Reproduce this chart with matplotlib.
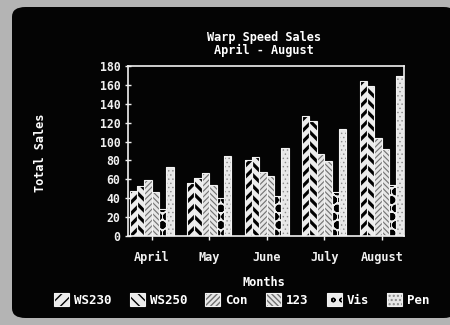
import matplotlib
matplotlib.use("Agg")
import matplotlib.pyplot as plt
from matplotlib.patches import Patch, FancyBboxPatch
import numpy as np

# ---- data ----
months = ["April", "May", "June", "July", "August"]
series_names = ["WS230", "WS250", "Con", "123", "Vis", "Pen"]
ws230 = [48, 56, 80, 127, 164]
ws250 = [53, 61, 84, 122, 159]
con = [59, 67, 68, 87, 104]
lotus = [47, 54, 64, 79, 92]
vis = [29, 40, 42, 47, 54]
pen = [73, 85, 93, 113, 169]
yticks = [0, 20, 40, 60, 80, 100, 120, 140, 160, 180]

series = [ws230, ws250, con, lotus, vis, pen]

# fill, hatch, hatch colour, hatch line width for each series
styles = [
    ("#ececec", "///", "#000000", 2.3),
    ("#ececec", "\\\\\\", "#000000", 2.3),
    ("#e6e6e6", "//////", "#707070", 0.8),
    ("#e6e6e6", "\\\\\\\\\\\\", "#707070", 0.8),
    ("#ececec", "oo", "#000000", 2.8),
    ("#e8e8e8", "....", "#8a8a8a", 0.5),
]

FONT = dict(family="DejaVu Sans Mono", weight="bold", color="white")
plt.rcParams["font.family"] = "DejaVu Sans Mono"
plt.rcParams["font.weight"] = "bold"

fig = plt.figure(figsize=(4.5, 3.25), dpi=100, facecolor="#b4b4b4")

# dark screen area
screen = FancyBboxPatch((12 / 450, 7 / 325), 445 / 450, 311 / 325,
                        boxstyle="round,pad=0,rounding_size=0.03",
                        transform=fig.transFigure, facecolor="#040404",
                        edgecolor="none", zorder=-5)
fig.patches.append(screen)

ax = fig.add_axes([128 / 450, 1 - 236 / 325, 276 / 450, 170 / 325])
ax.set_facecolor("#040404")
ax.set_zorder(2)

x = np.arange(len(months))
width = 0.128
handles = []
for i, (vals, (fc, hatch, hc, hlw)) in enumerate(zip(series, styles)):
    pos = x + (i - 2.5) * width
    bars = ax.bar(pos, vals, width, facecolor=fc, edgecolor=hc,
                  linewidth=0, hatch=hatch, zorder=2)
    for b in bars:
        b.set_hatch_linewidth(hlw)
    ax.bar(pos, vals, width, fill=False, edgecolor="#f2f2f2",
           linewidth=0.8, zorder=3)
    h_fill = Patch(facecolor=fc, edgecolor=hc, linewidth=0, hatch=hatch)
    h_fill.set_hatch_linewidth(hlw)
    h_edge = Patch(fill=False, edgecolor="#f2f2f2", linewidth=0.8)
    handles.append((h_fill, h_edge))

ax.set_xlim(-0.412, 4.388)
ax.set_ylim(0, 180)
ax.set_yticks(yticks)
ax.set_yticklabels([str(v) for v in yticks])
ax.set_xticks(x)
ax.set_xticklabels(months)

for s in ax.spines.values():
    s.set_color("#f0f0f0")
    s.set_linewidth(1.2)
ax.tick_params(axis="y", colors="#f0f0f0", direction="inout", length=4,
               width=1.0, pad=3.5, labelsize=8.3)
ax.tick_params(axis="x", colors="#f0f0f0", direction="out", length=3,
               width=1.0, pad=8, labelsize=8.6)
for lab in ax.get_xticklabels() + ax.get_yticklabels():
    lab.set_fontweight("bold")

# titles and axis captions
fig.text(264 / 450, 1 - 37 / 325, "Warp Speed Sales", ha="center",
         va="center", fontsize=8.6, **FONT)
fig.text(264 / 450, 1 - 50 / 325, "April - August", ha="center",
         va="center", fontsize=8.6, **FONT)
fig.text(264 / 450, 1 - 283 / 325, "Months", ha="center", va="center",
         fontsize=8.6, **FONT)
fig.text(40 / 450, 1 - 153 / 325, "Total Sales", ha="center", va="center",
         rotation=90, fontsize=8.6, **FONT)

leg = fig.legend(handles, series_names, ncol=6, loc="center",
                 bbox_to_anchor=(242 / 450, 1 - 300 / 325), frameon=False,
                 fontsize=9, handlelength=1.2, handleheight=1.25,
                 handletextpad=0.4, columnspacing=1.45, borderpad=0)
for t in leg.get_texts():
    t.set_color("white")
    t.set_fontweight("bold")

fig.savefig("out.png", dpi=100, facecolor=fig.get_facecolor())
